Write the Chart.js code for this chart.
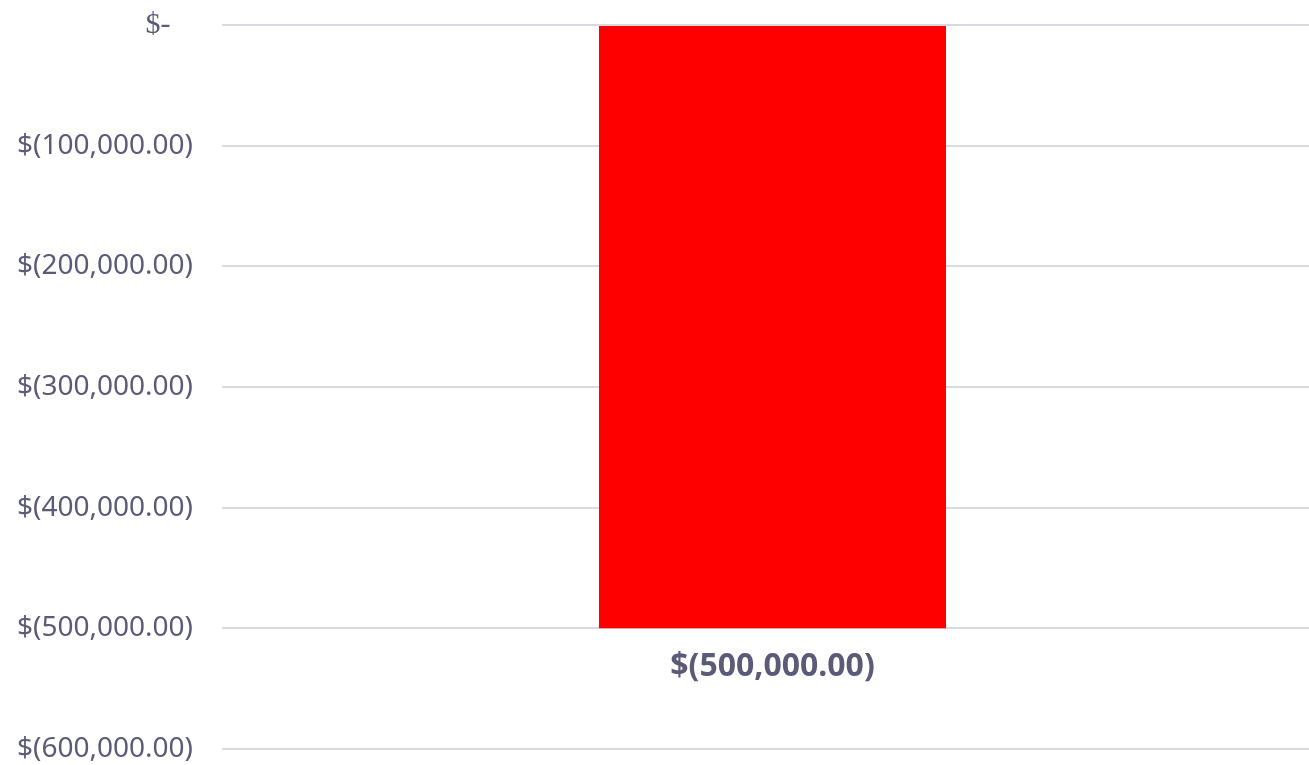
<!DOCTYPE html>
<html>
<head>
<meta charset="utf-8">
<script src="https://cdn.jsdelivr.net/npm/chart.js@4/dist/chart.umd.min.js"></script>
<style>
  html, body { margin: 0; padding: 0; background: #ffffff; overflow: hidden; width: 1309px; height: 765px; }
  #wrap { width: 1323px; height: 765px; position: relative; }
</style>
</head>
<body>
<div id="wrap"><canvas id="c"></canvas></div>
<script>
const categories = ["Total"];
const values = [-500000];
const tickValues = [0, -100000, -200000, -300000, -400000, -500000, -600000];

const textColor = '#5b5b78';
const gridColor = '#d9d9e1';

function fmt(v) {
  if (v === 0) return '$-   ';
  const s = Math.abs(v).toLocaleString('en-US', { minimumFractionDigits: 2, maximumFractionDigits: 2 });
  return v < 0 ? '$(' + s + ')' : '$' + s + ' ';
}

const labelPlugin = {
  id: 'barLabels',
  afterDatasetsDraw(chart) {
    const ctx = chart.ctx;
    const meta = chart.getDatasetMeta(0);
    ctx.save();
    ctx.fillStyle = textColor;
    ctx.font = 'bold 32px "Noto Sans"';
    ctx.textAlign = 'center';
    ctx.textBaseline = 'middle';
    meta.data.forEach((bar, i) => {
      const v = chart.data.datasets[0].data[i];
      ctx.fillText(fmt(v), bar.x, bar.y + 39);
    });
    ctx.restore();
  }
};

new Chart(document.getElementById('c'), {
  type: 'bar',
  data: {
    labels: categories,
    datasets: [{
      data: values,
      backgroundColor: '#ff0000',
      borderWidth: 0,
      barPercentage: 0.3152,
      categoryPercentage: 1.0
    }]
  },
  options: {
    responsive: true,
    maintainAspectRatio: false,
    animation: false,
    layout: { padding: { top: 25, bottom: 16, left: 0, right: 0 } },
    plugins: { legend: { display: false }, tooltip: { enabled: false } },
    scales: {
      x: { display: false },
      y: {
        min: -600000,
        max: 0,
        border: { display: false },
        grid: { color: gridColor, lineWidth: 2, drawTicks: false },
        afterBuildTicks(scale) { scale.ticks = tickValues.map(v => ({ value: v })); },
        afterFit(scale) { scale.width = 222; scale.paddingTop = 0; scale.paddingBottom = 0; },
        ticks: {
          padding: 29,
          color: textColor,
          font: (c) => (c.tick && c.tick.value === 0)
            ? { family: 'Liberation Serif', size: 30 }
            : { family: 'Noto Sans', size: 28 },
          callback: (v) => fmt(v)
        }
      }
    }
  },
  plugins: [labelPlugin]
});
</script>
</body>
</html>
